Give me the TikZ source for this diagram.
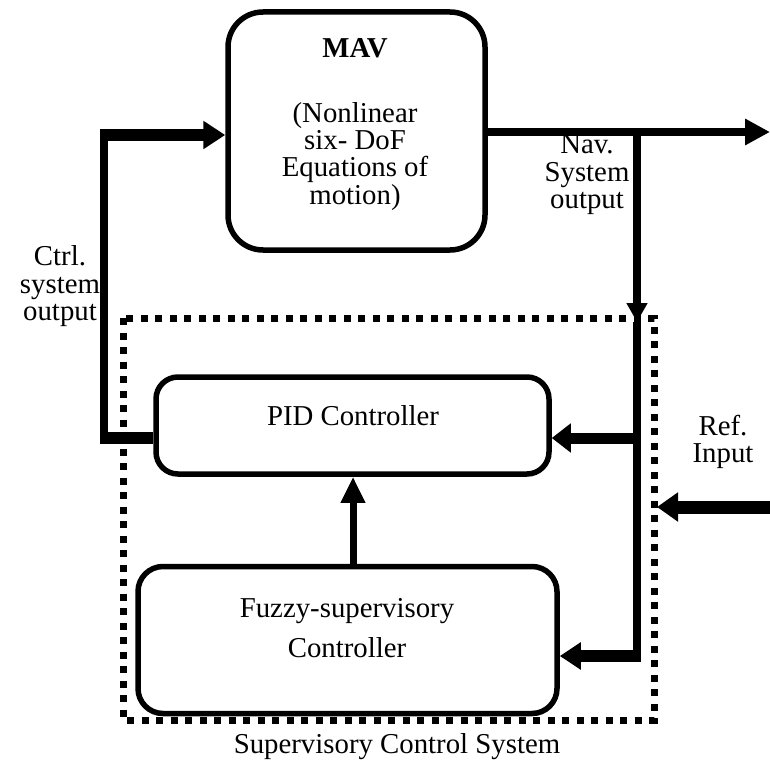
\documentclass[tikz,border=0pt]{standalone}
\usepackage{fontspec}
\setmainfont{Liberation Serif}
\usetikzlibrary{arrows.meta}
\begin{document}
\begin{tikzpicture}[x=1pt,y=-1pt,
  blk/.style={draw,line width=5.5pt,rounded corners=#1,inner sep=0pt},
  lbl/.style={align=center,inner sep=0pt,anchor=base,font=\fontsize{28.8}{27.5}\selectfont},
  dotbox/.style={draw,line width=7pt,dash pattern=on 7pt off 7.5pt}]
\useasboundingbox (0,0) rectangle (770,760);
% boxes
\node[blk=35pt,minimum width=257pt,minimum height=238pt] (mav) at (356.5,131) {};
\node[blk=22pt,minimum width=393pt,minimum height=97pt] (pid) at (352.5,425.5) {};
\node[blk=25pt,minimum width=419pt,minimum height=147pt] (fz) at (347.5,640) {};
\draw[dotbox] (123,318) rectangle (654,720);
% texts
\node[lbl] (mavt) at (355,57) {\textbf{MAV}};
\node[lbl] (mavd1) at (355,122) {(Nonlinear};
\node[lbl] (mavd2) at (355,149) {six- DoF};
\node[lbl] (mavd3) at (355,176) {Equations of};
\node[lbl] (mavd4) at (355,204) {motion)};
\node[lbl] (pidt) at (353,425) {PID Controller};
\node[lbl] (fzt1) at (347,617) {Fuzzy-supervisory};
\node[lbl] (fzt2) at (347,657) {Controller};
\node[lbl] (sup) at (397,753) {Supervisory Control System};
\node[lbl] (ctrl1) at (60,265) {Ctrl.};
\node[lbl] (ctrl2) at (60,293) {system};
\node[lbl] (ctrl3) at (60,320) {output};
\node[lbl] (nav1) at (587,153) {Nav.};
\node[lbl] (nav2) at (587,181) {System};
\node[lbl] (nav3) at (587,208) {output};
\node[lbl] (ref1) at (723,435) {Ref.};
\node[lbl] (ref2) at (723,462) {Input};
% coordinates
\coordinate (out) at (770,132);
\coordinate (br) at (637,132);
\coordinate (brin) at (637,322);
\coordinate (bot) at (637,656);
\coordinate (pidin) at (637,438);
\coordinate (refin) at (770,507);
\coordinate (refend) at (657,507);
\coordinate (fbb) at (104,438);
\coordinate (fbt) at (104,135);
% output and branch
\draw[line width=8pt,-{Triangle[length=25pt,width=25pt]}] (mav.east |- out) -- (out);
\draw[line width=8pt,-{Triangle[length=19pt,width=20pt]}] ([yshift=-4pt]br) -- (brin);
\draw[line width=8pt] (brin) -- ([yshift=6pt]bot);
\draw[line width=11pt,-{Triangle[length=19pt,width=28pt]}] ([xshift=4pt]pidin) -- (pid.east |- pidin);
\draw[line width=12pt,-{Triangle[length=21pt,width=26pt]}] ([xshift=4pt]bot) -- (fz.east |- bot);
% feedback
\draw[line width=8pt] ([yshift=6pt]fbb) -- ([yshift=-6pt]fbt);
\draw[line width=12pt] (pid.west |- fbb) -- ([xshift=-4pt]fbb);
\draw[line width=12pt,-{Triangle[length=22pt,width=27pt]}] ([xshift=-4pt]fbt) -- (mav.west |- fbt);
% fuzzy to pid
\draw[line width=7pt,-{Triangle[length=26pt,width=23pt]}] (fz.north -| 353,0) -- (pid.south -| 353,0);
% ref
\draw[line width=13pt,-{Triangle[length=21pt,width=28pt]}] (refin) -- (refend);
\end{tikzpicture}
\end{document}
